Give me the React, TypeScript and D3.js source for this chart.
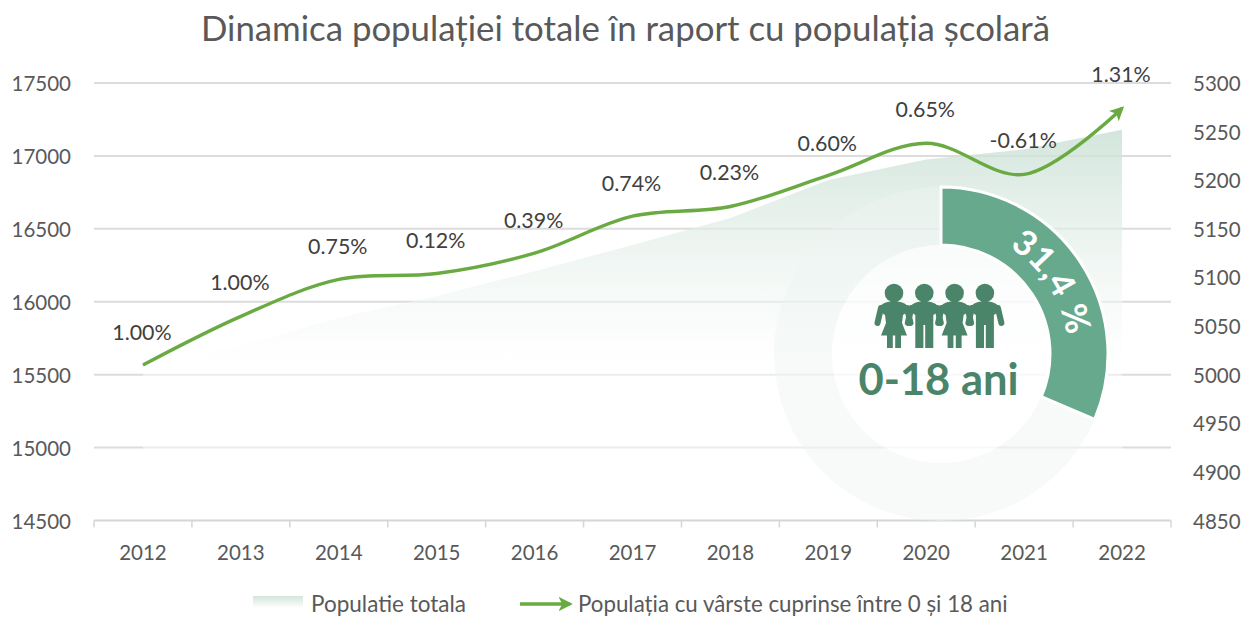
import React from "react";
import * as d3 from "d3";

const years = ["2012","2013","2014","2015","2016","2017","2018","2019","2020","2021","2022"];
const totalPopulation = [15565,15700,15890,16040,16210,16390,16575,16835,16975,17045,17180];
const schoolPopulation = [5010,5060,5098,5104,5125,5163,5173,5205,5238,5206,5274];
const growthLabels = ["1.00%","1.00%","0.75%","0.12%","0.39%","0.74%","0.23%","0.60%","0.65%","-0.61%","1.31%"];
const labelOffsets = [-25,-26,-25,-26,-25,-25,-26,-24,-26,-26,-26];
const leftTicks = [14500,15000,15500,16000,16500,17000,17500];
const rightTicks = [4850,4900,4950,5000,5050,5100,5150,5200,5250,5300];
const shareOfPopulation = 31.4;
const figures = ["f","m","f","m"];

const F = "Lato, sans-serif";
const W = 1244, H = 617;
const x = d3.scaleBand<string>().domain(years).range([94, 1171]);
const cx = (y: string) => (x(y) as number) + x.bandwidth() / 2;
const yL = d3.scaleLinear().domain([14500, 17500]).range([520.5, 83]);
const yR = d3.scaleLinear().domain([4850, 5300]).range([520.5, 83]);

const areaPath = d3.area<number>().x((_, i) => cx(years[i])).y0(yL(14500)).y1(d => yL(d))(totalPopulation) as string;
const linePath = d3.line<number>().x((_, i) => cx(years[i])).y(d => yR(d)).curve(d3.curveCatmullRom.alpha(0.5))(schoolPopulation) as string;

const C = { x: 941, y: 354 }, R1 = 167, R0 = 109;
const ringArc = d3.arc()({ innerRadius: R0, outerRadius: R1, startAngle: 0, endAngle: Math.PI * 2 }) as string;
const shareArc = d3.arc()({ innerRadius: R0, outerRadius: R1, startAngle: 0, endAngle: (Math.PI * 2 * shareOfPopulation) / 100 }) as string;

function Person({ kind, px }: { kind: string; px: number }) {
  const col = "#4a8469";
  return (
    <g transform={`translate(${px},293)`} fill={col}>
      <circle cx={0} cy={0} r={9.3} />
      <path d="M-13,15 L-16.5,30 M13,15 L16.5,30" stroke={col} strokeWidth={6} strokeLinecap="round" fill="none" />
      {kind === "f" ? (
        <>
          <path d="M0,8.5 C8,8.5 12,10 15,15 L12,20 L9,22 L8,30 L13,42.5 L-13,42.5 L-8,30 L-9,22 L-12,20 L-15,15 C-12,10 -8,8.5 0,8.5Z" />
          <rect x={-7} y={42} width={5.8} height={13} />
          <rect x={1.2} y={42} width={5.8} height={13} />
        </>
      ) : (
        <path d="M0,8.5 C8,8.5 12,10 15,15 L12,20 L9,22 L9,55 L0.9,55 L0.9,32 L-0.9,32 L-0.9,55 L-9,55 L-9,22 L-12,20 L-15,15 C-12,10 -8,8.5 0,8.5Z" />
      )}
    </g>
  );
}

export default function App() {
  return (
    <svg width={W} height={H} style={{ position: "absolute", left: 0, top: 0, background: "#fff" }} fontFamily={F}>
      <defs>
        <linearGradient id="areaGrad" gradientUnits="userSpaceOnUse" x1={0} x2={0} y1={130} y2={365}>
          <stop offset="0" stopColor="#c9e0d4" stopOpacity={0.82} />
          <stop offset="1" stopColor="#ffffff" stopOpacity={0.45} />
        </linearGradient>
        <linearGradient id="swatchGrad" x1={0} x2={0} y1={0} y2={1}>
          <stop offset="0" stopColor="#d3e5dc" />
          <stop offset="1" stopColor="#ffffff" />
        </linearGradient>
        <marker id="arrow" viewBox="0 0 10 10" refX={8} refY={5} markerWidth={4.2} markerHeight={4.2} orient="auto">
          <path d="M0,0 L10,5 L0,10 L2.5,5 Z" fill="#6aaa42" />
        </marker>
        <path id="shareLabelPath" d={d3.arc()({ innerRadius: 127, outerRadius: 127, startAngle: 0, endAngle: Math.PI * 0.62 }) as string} />
      </defs>

      <text x={625.5} y={41} textAnchor="middle" fontSize={34.8} fontWeight={400} fill="#595959">Dinamica populației totale în raport cu populația școlară</text>

      {leftTicks.slice(1).map(t => (
        <line key={t} x1={94} x2={1171} y1={yL(t)} y2={yL(t)} stroke="#dcdcdc" strokeWidth={2} />
      ))}
      <path d={areaPath} fill="url(#areaGrad)" />

      <line x1={94} x2={1171} y1={yL(14500)} y2={yL(14500)} stroke="#d6d6d6" strokeWidth={2} />
      {[...years.map(y => x(y) as number), 1171].map((t, i) => (
        <line key={i} x1={t} x2={t} y1={yL(14500)} y2={yL(14500) + 7} stroke="#d6d6d6" strokeWidth={1.5} />
      ))}

      <g transform={`translate(${C.x},${C.y})`}>
        <path d={ringArc} fill="#eef4f1" fillOpacity={0.45} />
        <circle r={R0} fill="#fff" fillOpacity={0.65} />
        <path d={shareArc} fill="#66a98c" stroke="#fff" strokeWidth={3} />
        <text fontSize={35} fontWeight={700} fill="#fff" letterSpacing={0.5}>
          <textPath href="#shareLabelPath" startOffset="14.6%">31,4 %</textPath>
        </text>
      </g>

      {figures.map((k, i) => <Person key={i} kind={k} px={894 + i * 30.3} />)}
      <text x={938.5} y={395} textAnchor="middle" fontSize={43.5} fontWeight={700} fill="#4a8469">0-18 ani</text>

      <path d={linePath} fill="none" stroke="#6aaa42" strokeWidth={3.4} markerEnd="url(#arrow)" />

      {growthLabels.map((l, i) => (
        <text key={i} x={cx(years[i]) - 1} y={yR(schoolPopulation[i]) + labelOffsets[i]} textAnchor="middle" fontSize={21.4} fill="#404040">{l}</text>
      ))}

      {leftTicks.map(t => (
        <text key={t} x={71} y={yL(t) + 8} textAnchor="end" fontSize={20.5} fill="#595959">{t}</text>
      ))}
      {rightTicks.map(t => (
        <text key={t} x={1193} y={yR(t) + 8} fontSize={20.5} fill="#595959">{t}</text>
      ))}
      {years.map(y => (
        <text key={y} x={cx(y)} y={560} textAnchor="middle" fontSize={20.5} fill="#595959">{y}</text>
      ))}

      <rect x={253} y={596} width={50} height={12} fill="url(#swatchGrad)" />
      <text x={311} y={612} fontSize={22.5} fill="#595959">Populatie totala</text>
      <line x1={520} x2={570} y1={604} y2={604} stroke="#6aaa42" strokeWidth={3.4} markerEnd="url(#arrow)" />
      <text x={578} y={612} fontSize={22.3} fill="#595959">Populația cu vârste cuprinse între 0 și 18 ani</text>
    </svg>
  );
}
